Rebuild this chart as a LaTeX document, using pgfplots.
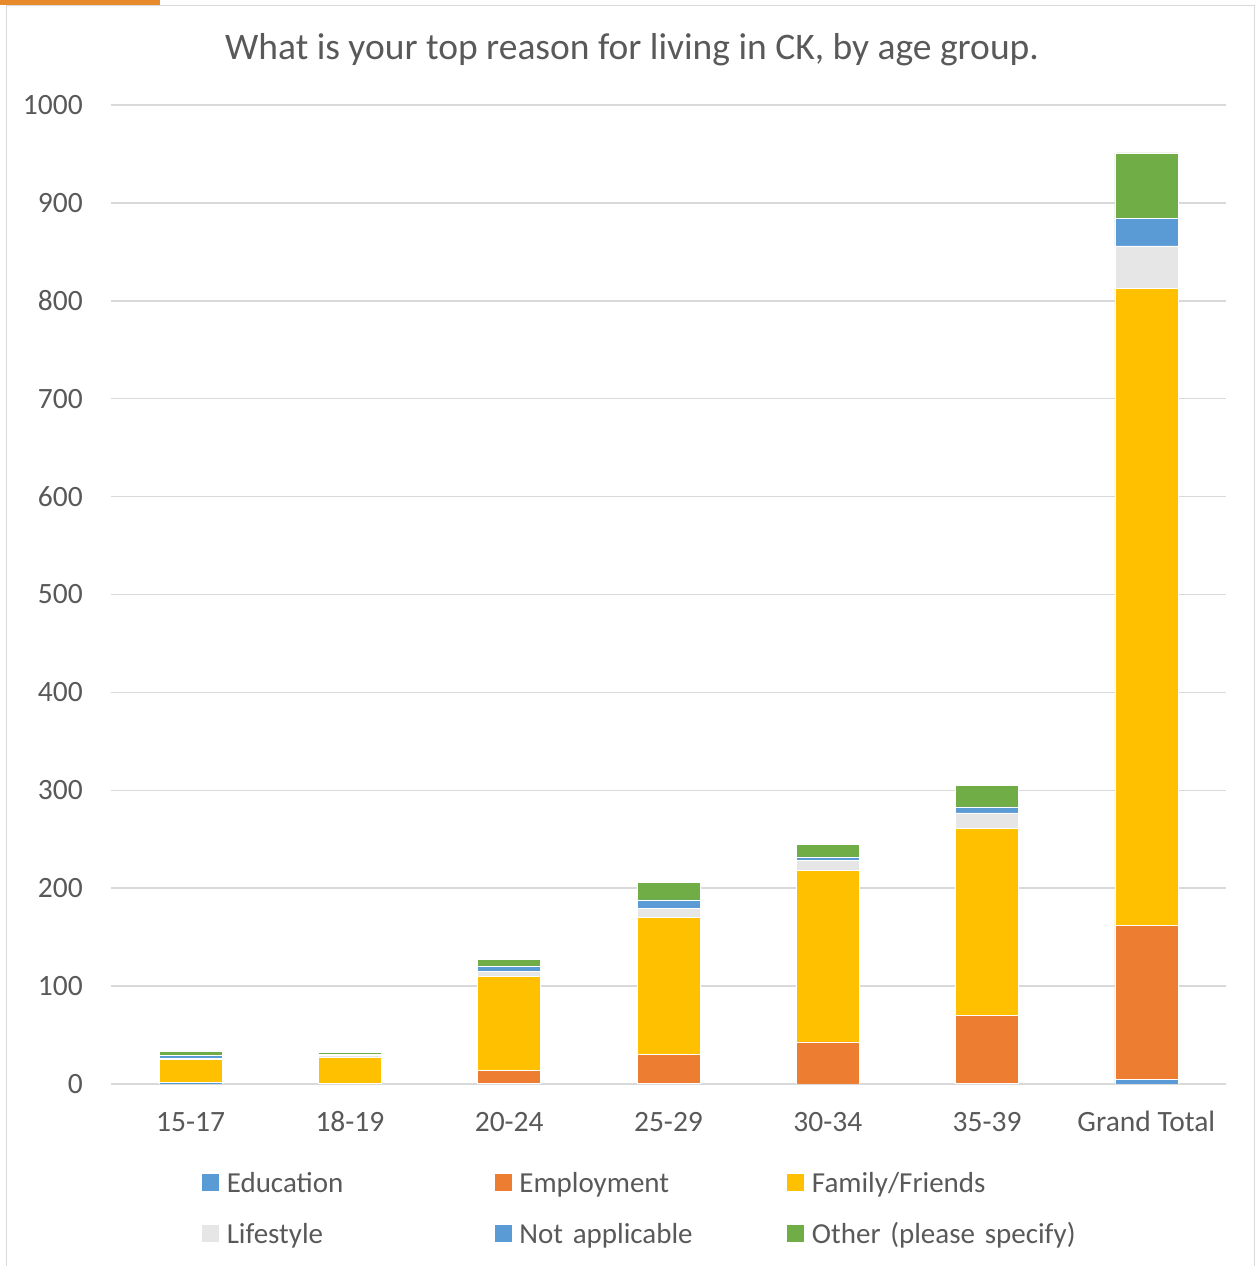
\documentclass[border=0pt]{standalone}
\usepackage{fontspec}
\setmainfont{Carlito}
\usepackage{pgfplots}
\pgfplotsset{compat=1.18}

\definecolor{txt}{HTML}{595959}
\definecolor{gridc}{HTML}{D9D9D9}
\definecolor{cEdu}{HTML}{5B9BD5}
\definecolor{cEmp}{HTML}{ED7D31}
\definecolor{cFam}{HTML}{FFC000}
\definecolor{cLif}{HTML}{E7E6E6}
\definecolor{cNA}{HTML}{5B9BD5}
\definecolor{cOth}{HTML}{70AD47}
\definecolor{tab}{HTML}{E8892B}

\pgfplotsset{
  sq/.style={fill=#1, draw=white, line width=0.6bp,
    legend image code/.code={\fill[#1] (0bp,-5bp) rectangle (16bp,11bp);}},
}

\begin{document}
\begin{tikzpicture}
  \useasboundingbox (0,0) rectangle (1256bp,1266bp);
  % chart frame
  \draw[gridc, line width=1.5bp] (6.7bp,0) -- (6.7bp,1260.5bp) -- (1254.7bp,1260.5bp) -- (1254.7bp,0);
  \fill[tab] (0,1261bp) rectangle (160bp,1266bp);
  \node[txt, font=\fontsize{37.5bp}{44bp}\selectfont] at (632bp,1216bp)
    {What is your top reason for living in CK, by age group.};

  \begin{axis}[
      at={(111bp,182bp)}, anchor=south west,
      scale only axis,
      width=1115bp, height=979bp,
      ybar stacked, bar width=63bp,
      xmin=-0.5, xmax=6.5,
      ymin=0, ymax=1000,
      xtick=data,
      xticklabels={15-17,18-19,20-24,25-29,30-34,35-39,Grand Total},
      ytick={0,100,...,1000},
      major tick length=0,
      axis line style={draw=none},
      ymajorgrids,
      grid style={gridc, line width=1.5bp},
      /pgf/number format/assume math mode=true,
      /pgf/number format/1000 sep={},
      tick label style={txt, font=\fontsize{29.5bp}{34bp}\selectfont},
      xticklabel style={inner sep=0pt, text height=20bp, text depth=6bp, yshift=-27bp},
      yticklabel style={inner sep=0pt, text height=19bp, text depth=0bp, xshift=-28bp},
      legend columns=3,
      legend cell align=left,
      legend style={
        at={(0.0816,-0.0889)}, anchor=north west,
        draw=none, fill=none, inner sep=0pt, row sep=23bp,
        font=\fontsize{29bp}{34bp}\selectfont, text=txt,
        nodes={text width=268bp, inner sep=0pt, text height=21bp, text depth=7bp, align=left},
        /tikz/every odd column/.append style={column sep=8bp},
      },
    ]
    \addplot[sq=cEdu] coordinates {(0,2) (1,0) (2,1) (3,1) (4,0) (5,1) (6,5)};
    \addplot[sq=cEmp] coordinates {(0,0) (1,1) (2,13) (3,29) (4,43) (5,69) (6,157)};
    \addplot[sq=cFam] coordinates {(0,23) (1,26) (2,96) (3,140) (4,175) (5,191) (6,651)};
    \addplot[sq=cLif] coordinates {(0,1) (1,2) (2,5) (3,9) (4,10) (5,16) (6,43)};
    \addplot[sq=cNA] coordinates {(0,3) (1,1) (2,5) (3,9) (4,4) (5,6) (6,28)};
    \addplot[sq=cOth] coordinates {(0,4) (1,2) (2,7) (3,18) (4,13) (5,22) (6,67)};
    \legend{Education, Employment, Family/Friends, Lifestyle, Not applicable, Other (please specify)}
  \end{axis}
\end{tikzpicture}
\end{document}
